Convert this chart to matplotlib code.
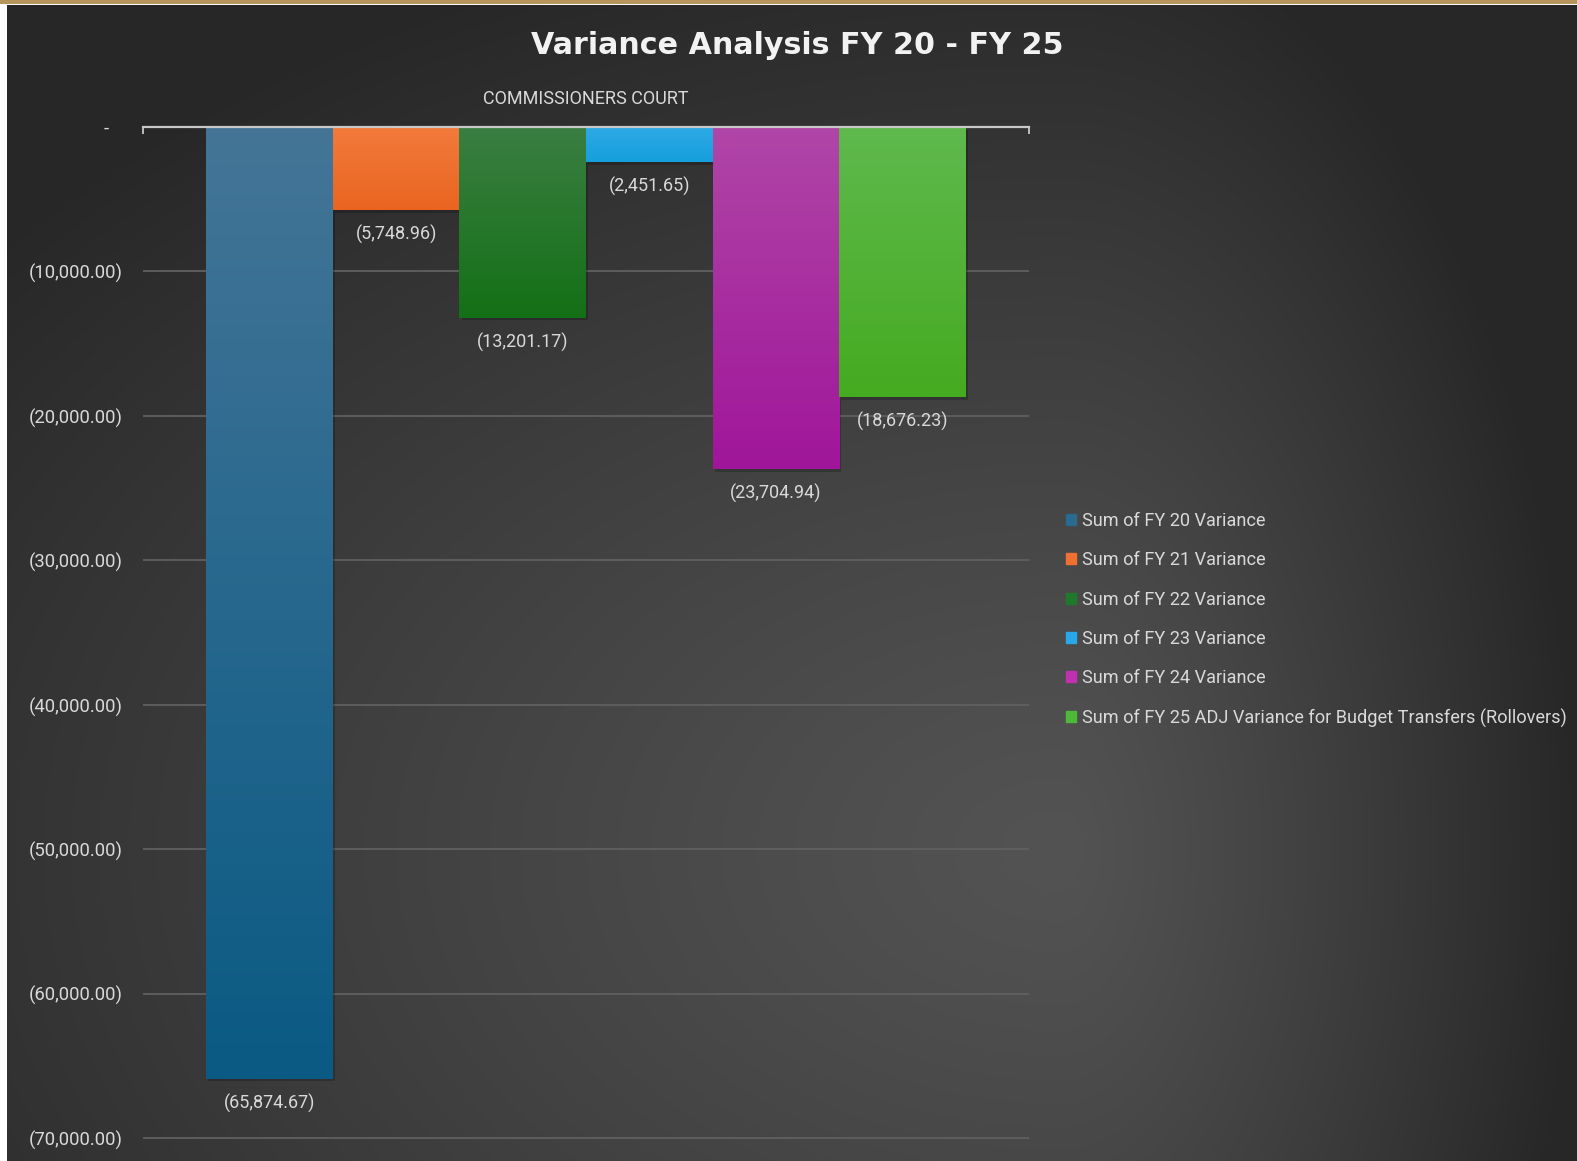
import numpy as np
import matplotlib
matplotlib.use("Agg")
import matplotlib.pyplot as plt
from matplotlib.patches import Rectangle
from matplotlib.colors import to_rgb
import matplotlib.patheffects as pe
from matplotlib.ticker import FuncFormatter, FixedLocator

plt.rcParams['font.family'] = ['Roboto', 'DejaVu Sans']

# ---------------- data ----------------
title = "Variance Analysis FY 20 - FY 25"
category = ["COMMISSIONERS COURT"]
series = ["Sum of FY 20 Variance", "Sum of FY 21 Variance", "Sum of FY 22 Variance",
          "Sum of FY 23 Variance", "Sum of FY 24 Variance",
          "Sum of FY 25 ADJ Variance for Budget Transfers (Rollovers)"]
values = [-65874.67, -5748.96, -13201.17, -2451.65, -23704.94, -18676.23]
yticks = [0, -10000, -20000, -30000, -40000, -50000, -60000, -70000]

top_colors = ["#447597", "#f27b3c", "#3a7e42", "#2eaae6", "#b046a7", "#5fb94d"]
bot_colors = ["#0a5a84", "#ea6420", "#147016", "#169fdc", "#a0169a", "#45ab20"]
legend_colors = ["#2a6a8e", "#f07030", "#1e7a2a", "#28a8e8", "#c030b0", "#50b838"]

W, H = 1577, 1161
fig = plt.figure(figsize=(W / 100, H / 100), dpi=100)

# ---------------- background ----------------
bg = fig.add_axes([0, 0, 1, 1], zorder=-10)
xx, yy = np.meshgrid(np.arange(W), np.arange(H))
cx, cy = 1060, 850
rx = np.where(xx > cx, 520.0, 1400.0)
ry = 950.0
d = np.sqrt(((xx - cx) / rx) ** 2 + ((yy - cy) / ry) ** 2)
v = np.clip(d, 0, 1) ** 1.2
lum = (0x53 + (0x27 - 0x53) * v) / 255.0
img = np.dstack([lum, lum, lum])
# frame: white left strip, gold top band
img[:, :7, :] = 1.0
img[:5, :, :] = 1.0
img[:4, :, :] = np.array(to_rgb("#b8955c"))
bg.imshow(img, extent=[0, W, H, 0], aspect='auto', interpolation='bilinear')
bg.set_xlim(0, W); bg.set_ylim(H, 0)
bg.axis('off')

# ---------------- main axes ----------------
left, right = 143 / W, 1029 / W
top = 1 - 127 / H
bottom = 1 - 1144 / H
ax = fig.add_axes([left, bottom, right - left, top - bottom])
ax.set_facecolor('none')

x = np.arange(len(values))
bars = ax.bar(x, values, width=1.0, color=bot_colors, zorder=3,
              path_effects=[pe.SimplePatchShadow(offset=(1.5, -2), shadow_rgbFace='black', alpha=0.2),
                            pe.Normal()])

# vertical gradient on each bar
for b, ct, cb in zip(bars, top_colors, bot_colors):
    x0, w = b.get_x(), b.get_width()
    y0, h = b.get_y(), b.get_height()
    n = 256
    t = np.linspace(0, 1, n)[:, None]
    c = (1 - t) * np.array(to_rgb(ct)) + t * np.array(to_rgb(cb))
    grad = c.reshape(n, 1, 3)
    im = ax.imshow(grad, extent=[x0, x0 + w, y0 + h, y0], aspect='auto',
                   origin='upper', zorder=3.5, interpolation='bilinear')
    im.set_clip_path(b)

# data labels
for b, val in zip(bars, values):
    ax.annotate(f"({abs(val):,.2f})", xy=(b.get_x() + b.get_width() / 2, val),
                xytext=(0, -17.5), textcoords='offset points', ha='center', va='center',
                fontsize=13, color='#d9d9d9', zorder=5)

ax.set_xlim(-1, len(values))
ax.set_ylim(-70400, 0)

# y axis
ax.yaxis.set_major_locator(FixedLocator(yticks))
ax.yaxis.set_major_formatter(FuncFormatter(lambda v, p: "-   " if v == 0 else f"({abs(v):,.2f})"))
ax.tick_params(axis='y', length=0, pad=14.5, labelsize=13.3, labelcolor='#d9d9d9')
ax.yaxis.grid(True, color='#606060', lw=1.3, zorder=0)
ax.set_axisbelow(True)

# x axis at top (category axis)
ax.xaxis.tick_top()
ax.set_xticks([(len(values) - 1) / 2])
ax.set_xticklabels(category)
ax.set_xticks([-1, len(values)], minor=True)
ax.tick_params(axis='x', which='major', length=0, pad=14, labelsize=13, labelcolor='#d9d9d9')
ax.tick_params(axis='x', which='minor', direction='in', length=5, width=1.3, color='#c8c8c8')
for s in ['left', 'right', 'bottom']:
    ax.spines[s].set_visible(False)
ax.spines['top'].set_color('#c8c8c8')
ax.spines['top'].set_linewidth(1.6)
ax.spines['top'].set_zorder(4)

# title
fig.text(797 / W, 1 - 46 / H, title, ha='center', va='center', fontsize=21.7,
         fontweight='bold', color='#f2f2f2', family=['DejaVu Sans'])

# legend
handles = [Rectangle((0, 0), 1, 1, color=c) for c in legend_colors]
leg = ax.legend(handles, series, loc='upper left', bbox_to_anchor=(1066 / W, 1 - 512 / H),
                bbox_transform=fig.transFigure, frameon=False, handlelength=0.55,
                handleheight=0.55, handletextpad=0.32, labelspacing=1.17, borderpad=0,
                borderaxespad=0, fontsize=13.1, labelcolor='#d9d9d9')

fig.savefig("out.png", dpi=100)
